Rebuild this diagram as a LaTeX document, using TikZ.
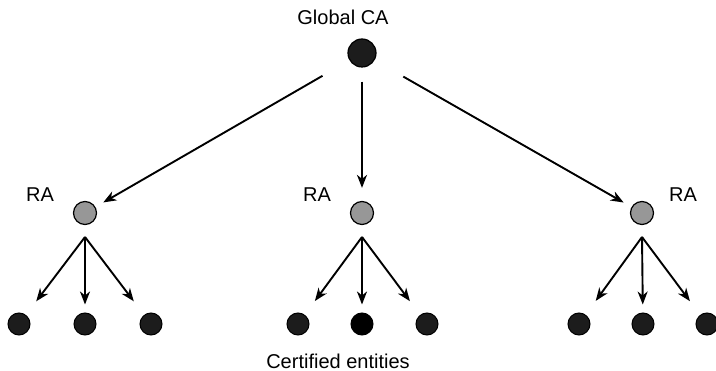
\documentclass[tikz,border=0pt]{standalone}
\usepackage{fontspec}
\setmainfont{Liberation Sans}
\usepackage{xcolor}
\definecolor{nodeDark}{HTML}{1C1C1C}
\definecolor{raGray}{HTML}{979797}
\usepackage{tikz}
\usetikzlibrary{arrows.meta}
\tikzset{%
  caNode/.style={%
    circle,
    draw=black,
    fill=nodeDark,
    line width=1.2pt,
    minimum size=28pt,
    inner sep=0pt
  },
  raNode/.style={%
    circle,
    draw=black,
    fill=raGray,
    line width=1.2pt,
    minimum size=23pt,
    inner sep=0pt
  },
  entityNode/.style={%
    circle,
    draw=black,
    fill=nodeDark,
    line width=1pt,
    minimum size=22pt,
    inner sep=0pt
  },
  arrowLine/.style={%
    -{Stealth[length=13pt,width=10pt,inset=4pt]},
    line width=1.9pt,
    color=black
  },
  labelText/.style={%
    font=\fontsize{20}{24}\selectfont,
    inner sep=0pt
  }
}

\begin{document}
\begin{tikzpicture}[x=1pt, y=-1pt]
  \useasboundingbox (0,0) rectangle (716,371);

  % global CA
  \node[caNode] (ca) at (362,53) {};
  \node[labelText] (caLabel) at (343,17) {Global CA};

  % registration authorities
  \node[raNode] (raA) at (85,213) {};
  \node[raNode] (raB) at (362,213) {};
  \node[raNode] (raC) at (642,213) {};
  \node[labelText] (raALabel) at (40,195) {RA};
  \node[labelText] (raBLabel) at (317,195) {RA};
  \node[labelText] (raCLabel) at (683,195) {RA};

  \draw[arrowLine, shorten <=31pt, shorten >=9pt] (ca) -- (raA);
  \draw[arrowLine, shorten <=14pt, shorten >=13pt] (ca) -- (raB);
  \draw[arrowLine, shorten <=33pt, shorten >=9pt] (ca) -- (raC);

  % forks below each RA
  \coordinate (forkA) at (85,237);
  \coordinate (forkB) at (362,237);
  \coordinate (forkC) at (642,237);

  % certified entities
  \node[entityNode] (eA1) at (19,324) {};
  \node[entityNode] (eA2) at (85,324) {};
  \node[entityNode] (eA3) at (151,324) {};
  \node[entityNode] (eB1) at (298,324) {};
  \node[entityNode, fill=black] (eB2) at (362,324) {};
  \node[entityNode] (eB3) at (427,324) {};
  \node[entityNode] (eC1) at (579,324) {};
  \node[entityNode] (eC2) at (643,324) {};
  \node[entityNode] (eC3) at (707,324) {};
  \node[labelText] (entLabel) at (338,361) {Certified entities};

  \draw[arrowLine, shorten >=17pt] (forkA) -- (eA1);
  \draw[arrowLine, shorten >=8pt] (forkA) -- (eA2);
  \draw[arrowLine, shorten >=17pt] (forkA) -- (eA3);
  \draw[arrowLine, shorten >=17pt] (forkB) -- (eB1);
  \draw[arrowLine, shorten >=8pt] (forkB) -- (eB2);
  \draw[arrowLine, shorten >=17pt] (forkB) -- (eB3);
  \draw[arrowLine, shorten >=17pt] (forkC) -- (eC1);
  \draw[arrowLine, shorten >=8pt] (forkC) -- (eC2);
  \draw[arrowLine, shorten >=17pt] (forkC) -- (eC3);
\end{tikzpicture}
\end{document}
